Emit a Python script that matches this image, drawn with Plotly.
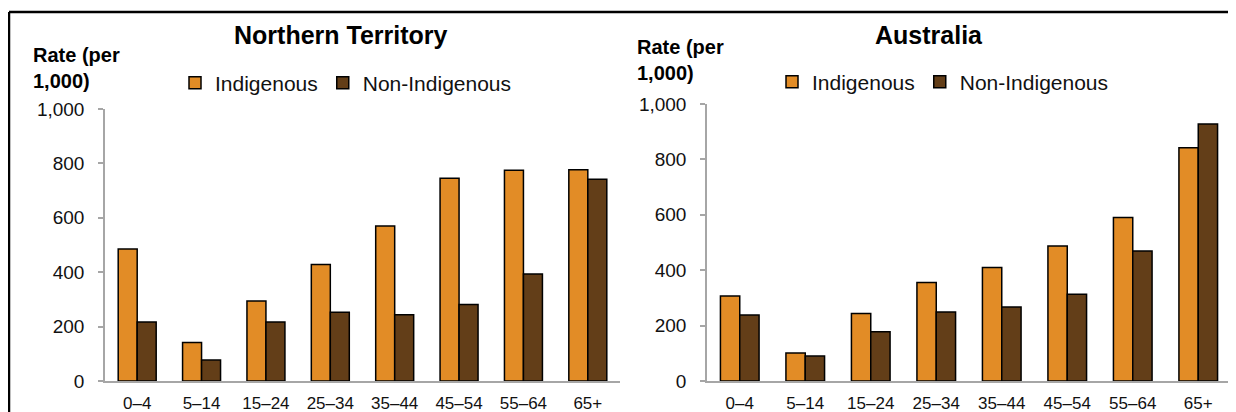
import plotly.graph_objects as go

categories = ["0–4", "5–14", "15–24", "25–34", "35–44", "45–54", "55–64", "65+"]
nt_indigenous = [485, 142, 294, 428, 570, 745, 775, 777]
nt_non_indigenous = [217, 77, 217, 253, 244, 281, 393, 742]
au_indigenous = [307, 101, 244, 356, 410, 487, 590, 842]
au_non_indigenous = [238, 90, 178, 249, 267, 313, 469, 928]
y_ticks = [0, 200, 400, 600, 800, 1000]

ORANGE = "#E28C26"
BROWN = "#633E18"
FONT = "Liberation Sans, Arial, sans-serif"
OFF = 8  # page body margin
W, H = 1236 - OFF, 412 - OFF

fig = go.Figure()

def bar(name, x, y, color, xa, ya, legend):
    return go.Bar(name=name, x=x, y=y, xaxis=xa, yaxis=ya, legend=legend,
                  showlegend=True,
                  marker=dict(color=color, line=dict(color="black", width=1.5)))

fig.add_trace(bar("Indigenous", categories, nt_indigenous, ORANGE, "x", "y", "legend"))
fig.add_trace(bar("Non-Indigenous", categories, nt_non_indigenous, BROWN, "x", "y", "legend"))
fig.add_trace(bar("Indigenous", categories, au_indigenous, ORANGE, "x2", "y2", "legend2"))
fig.add_trace(bar("Non-Indigenous", categories, au_non_indigenous, BROWN, "x2", "y2", "legend2"))

def px_x(p):
    return (p - OFF) / W

def px_y(p):
    return (H - (p - OFF)) / H

axis_common = dict(showgrid=False, zeroline=False, showline=True, linecolor="#A6A6A6",
                   linewidth=1.5, automargin=False)
xcommon = dict(axis_common, ticks="", tickfont=dict(size=17, color="#111", family=FONT),
               ticklabelstandoff=6)
ycommon = dict(axis_common, range=[0, 1000], tickvals=y_ticks, tickformat=",",
               ticks="outside", ticklen=5, tickcolor="#A6A6A6", tickwidth=1.5,
               tickfont=dict(size=19, color="#111", family=FONT), ticklabelstandoff=10)

fig.update_layout(
    template="none",
    width=W, height=H,
    margin=dict(l=0, r=0, t=0, b=0, pad=0, autoexpand=False),
    paper_bgcolor="white", plot_bgcolor="white",
    barmode="group", bargap=0.41, bargroupgap=0,
    font=dict(family=FONT, color="#111"),
    xaxis=dict(xcommon, domain=[px_x(105), px_x(620)], anchor="y"),
    yaxis=dict(ycommon, domain=[px_y(381), px_y(109)], anchor="x"),
    xaxis2=dict(xcommon, domain=[px_x(707), px_x(1231)], anchor="y2"),
    yaxis2=dict(ycommon, domain=[px_y(381), px_y(104)], anchor="x2"),
    legend=dict(orientation="h", x=px_x(175), y=px_y(83), xanchor="left", yanchor="middle",
                font=dict(size=21, family=FONT, color="#111"),
                bgcolor="rgba(0,0,0,0)", borderwidth=0),
    legend2=dict(orientation="h", x=px_x(772), y=px_y(82), xanchor="left", yanchor="middle",
                 font=dict(size=21, family=FONT, color="#111"),
                 bgcolor="rgba(0,0,0,0)", borderwidth=0),
    annotations=[
        dict(text="<b>Northern Territory</b>", x=px_x(341), y=px_y(35), xref="paper", yref="paper",
             showarrow=False, font=dict(size=25, family=FONT, color="black"),
             xanchor="center", yanchor="middle"),
        dict(text="<b>Australia</b>", x=px_x(929), y=px_y(35), xref="paper", yref="paper",
             showarrow=False, font=dict(size=25, family=FONT, color="black"),
             xanchor="center", yanchor="middle"),
        dict(text="<b>Rate (per<br>1,000)</b>", x=px_x(31), y=px_y(68), xref="paper", yref="paper",
             showarrow=False, align="left", font=dict(size=20, family=FONT, color="black"),
             xanchor="left", yanchor="middle"),
        dict(text="<b>Rate (per<br>1,000)</b>", x=px_x(635), y=px_y(60), xref="paper", yref="paper",
             showarrow=False, align="left", font=dict(size=20, family=FONT, color="black"),
             xanchor="left", yanchor="middle"),
    ],
    shapes=[
        dict(type="line", xref="paper", yref="paper", x0=px_x(9), x1=1.0, y0=px_y(12), y1=px_y(12),
             line=dict(color="black", width=2.5)),
        dict(type="line", xref="paper", yref="paper", x0=px_x(9), x1=px_x(9), y0=px_y(12), y1=0,
             line=dict(color="black", width=2.5)),
    ],
)

fig.write_html("out.html")
